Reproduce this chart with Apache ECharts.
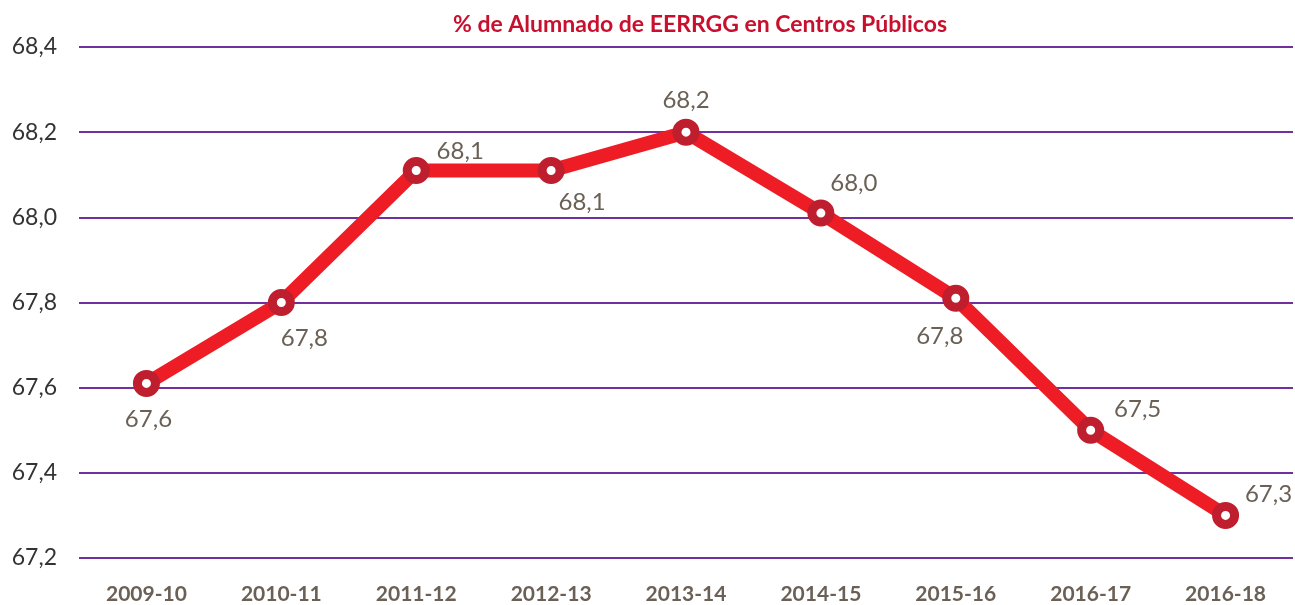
<!DOCTYPE html>
<html><head><meta charset="utf-8">
<script src="https://cdn.jsdelivr.net/npm/echarts@6/dist/echarts.min.js"></script>
<style>html,body{margin:0;padding:0;background:#fff}#c{width:1295px;height:605px}</style>
</head><body><div id="c"></div>
<script>
var categories = ['2009-10','2010-11','2011-12','2012-13','2013-14','2014-15','2015-16','2016-17','2016-18'];
var values = [67.61, 67.8, 68.11, 68.11, 68.2, 68.01, 67.81, 67.5, 67.3];
var yTicks = [67.2, 67.4, 67.6, 67.8, 68.0, 68.2, 68.4];
var labelOffsets = [[2,36],[23,36],[44,-19],[31,32],[0,-32],[33,-30],[-16,38],[47,-21],[43,-21]];
var titleText = '% de Alumnado de EERRGG en Centros Públicos';

var font = 'Lato';
var chart = echarts.init(document.getElementById('c'));
chart.setOption({
  animation: false,
  title: {text: titleText, left: 448, top: 8,
    textStyle: {color: '#c8102e', fontSize: 23, fontWeight: 'bold', fontFamily: font}},
  grid: {left: 79, right: 2, top: 47, bottom: 43},
  xAxis: {type: 'category', data: categories, boundaryGap: true,
    axisLine: {show: false}, axisTick: {show: false},
    axisLabel: {color: '#6b6055', fontSize: 21, fontWeight: 'bold', fontFamily: font, margin: 26}},
  yAxis: {type: 'value', min: 67.2, max: 68.4, interval: 0.2,
    axisLine: {show: false}, axisTick: {show: false},
    splitLine: {lineStyle: {color: '#7030a0', width: 2}},
    axisLabel: {color: '#333', fontSize: 23, fontFamily: font, margin: 22,
      formatter: function(v){return v.toFixed(1).replace('.', ',');}}},
  series: [{
    type: 'line', data: values.map(function(v,i){
      return {value: v, label: {offset: labelOffsets[i]}};
    }),
    lineStyle: {color: '#ee1c25', width: 14},
    symbol: 'circle', symbolSize: 18,
    itemStyle: {color: '#ffffff', borderColor: '#be1e2d', borderWidth: 9},
    label: {show: true, position: 'inside', align: 'center', verticalAlign: 'middle',
      color: '#6b6055', fontSize: 24, fontFamily: font,
      formatter: function(p){return p.value.toFixed(1).replace('.', ',');}},
    z: 3
  }]
});
</script></body></html>
